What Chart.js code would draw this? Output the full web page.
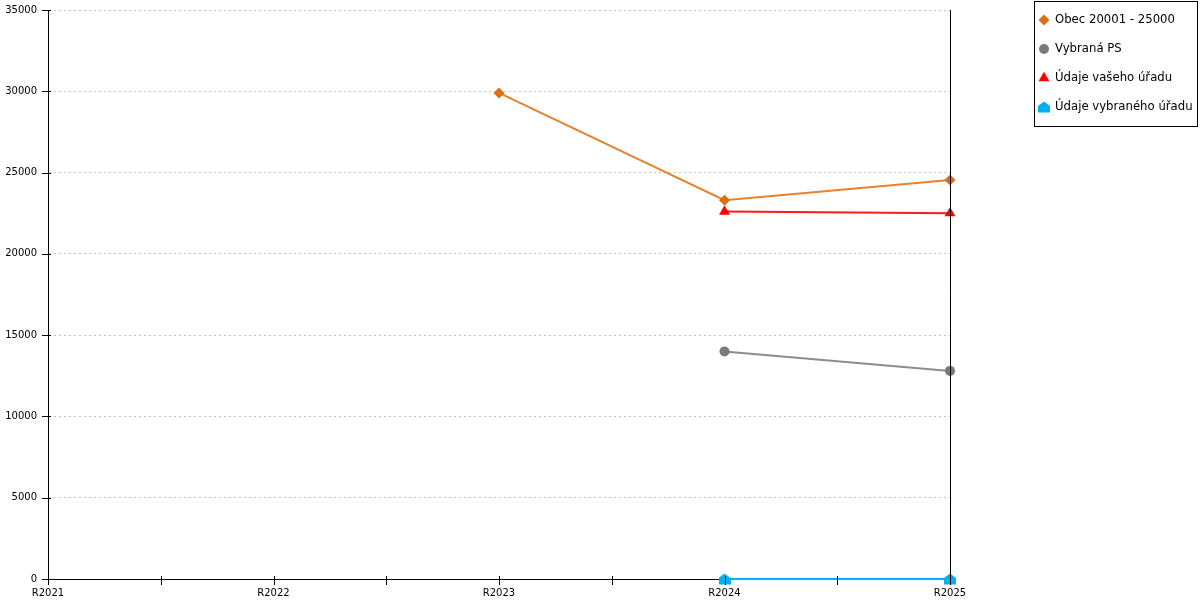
<!DOCTYPE html>
<html>
<head>
<meta charset="utf-8">
<script src="https://cdn.jsdelivr.net/npm/chart.js@4/dist/chart.umd.min.js"></script>
<style>
  html, body { margin: 0; padding: 0; background: #fff; }
  #wrap { width: 1200px; height: 600px; }
</style>
</head>
<body>
<div id="wrap"><canvas id="chart" width="1200" height="600"></canvas></div>
<script>
// categories and values
const years = ['R2021', 'R2022', 'R2023', 'R2024', 'R2025'];
const obec = [null, null, 29900, 23300, 24550];
const vybranaPS = [null, null, null, 14000, 12800];
const vasUrad = [null, null, null, 22600, 22500];
const vybranyUrad = [null, null, null, 0, 0];
const yTicks = [0, 5000, 10000, 15000, 20000, 25000, 30000, 35000];

const seriesNames = ['Obec 20001 - 25000', 'Vybraná PS', 'Údaje vašeho úřadu', 'Údaje vybraného úřadu'];

// house shaped marker for the last series
function houseMarker(color) {
    const c = document.createElement('canvas');
    c.width = 12; c.height = 12;
    const g = c.getContext('2d');
    g.fillStyle = color;
    g.beginPath();
    g.moveTo(6, 0.5);
    g.lineTo(12, 5);
    g.lineTo(12, 11.5);
    g.lineTo(0, 11.5);
    g.lineTo(0, 5);
    g.closePath();
    g.fill();
    return c;
}

const datasets = [
    { label: seriesNames[0], data: obec, borderColor: '#E8822A', backgroundColor: '#DD6E14',
      pointStyle: 'rectRot', pointRadius: 5.5, pointBorderWidth: 0 },
    { label: seriesNames[1], data: vybranaPS, borderColor: '#8C8C8C', backgroundColor: '#7A7A7A',
      pointStyle: 'circle', pointRadius: 5, pointBorderWidth: 0 },
    { label: seriesNames[2], data: vasUrad, borderColor: '#FF1A1A', backgroundColor: '#FF0000',
      pointStyle: 'triangle', pointRadius: 6.3, pointBorderWidth: 0 },
    { label: seriesNames[3], data: vybranyUrad, borderColor: '#00B0F0', backgroundColor: '#00B0F0',
      pointStyle: houseMarker('#00B0F0'), pointRadius: 6, pointBorderWidth: 0 }
];
datasets.forEach(d => {
    d.borderWidth = 2;
    d.fill = false;
    d.tension = 0;
    d.clip = false;
    d.spanGaps = false;
    d.pointHoverRadius = d.pointRadius;
});

// draws one legend marker in the same style as the dataset points
function legendMarker(ctx, d, x, y) {
    if (typeof d.pointStyle !== 'string') {
        const img = d.pointStyle;
        ctx.drawImage(img, x - img.width / 2, y - img.height / 2);
        return;
    }
    Chart.helpers.drawPoint(ctx, {
        pointStyle: d.pointStyle,
        radius: d.pointRadius,
        rotation: 0,
        borderWidth: 0
    }, x, y);
}

// axis frame, crossing tick marks and the boxed legend
const framePlugin = {
    id: 'frame',
    afterDraw(chart) {
        const ctx = chart.ctx;
        const area = chart.chartArea;
        const x = chart.scales.x;
        const y = chart.scales.y;
        ctx.save();
        ctx.strokeStyle = '#000';
        ctx.lineWidth = 1;
        ctx.beginPath();
        // right border
        ctx.moveTo(Math.round(area.right) + 0.5, area.top);
        ctx.lineTo(Math.round(area.right) + 0.5, area.bottom);
        // y ticks
        yTicks.forEach(v => {
            const py = Math.round(y.getPixelForValue(v)) + 0.5;
            ctx.moveTo(area.left - 6, py);
            ctx.lineTo(area.left + 3, py);
        });
        // x ticks at categories and midpoints
        for (let i = 0; i < years.length; i++) {
            const px = x.getPixelForValue(i);
            ctx.moveTo(Math.round(px) + 0.5, area.bottom - 3);
            ctx.lineTo(Math.round(px) + 0.5, area.bottom + 6);
            if (i < years.length - 1) {
                const mid = (px + x.getPixelForValue(i + 1)) / 2;
                ctx.moveTo(Math.round(mid) + 0.5, area.bottom - 3);
                ctx.lineTo(Math.round(mid) + 0.5, area.bottom + 6);
            }
        }
        ctx.stroke();

        // legend
        const lx = 1034.5, ly = 1.5, lw = 163, lh = 125;
        ctx.strokeRect(lx, ly, lw, lh);
        ctx.font = '11.7px "DejaVu Sans", Verdana, sans-serif';
        ctx.textBaseline = 'middle';
        ctx.textAlign = 'left';
        chart.data.datasets.forEach((d, i) => {
            const cy = 20 + i * 29;
            ctx.fillStyle = d.backgroundColor;
            ctx.strokeStyle = d.backgroundColor;
            legendMarker(ctx, d, 1044, cy);
            ctx.fillStyle = '#000';
            ctx.fillText(d.label, 1055, cy);
        });
        ctx.restore();
    }
};

new Chart(document.getElementById('chart').getContext('2d'), {
    type: 'line',
    data: { labels: years, datasets: datasets },
    plugins: [framePlugin],
    options: {
        responsive: false,
        animation: false,
        events: [],
        layout: { padding: { left: 0, right: 250, top: 10, bottom: 0 } },
        plugins: { legend: { display: false }, tooltip: { enabled: false } },
        scales: {
            x: {
                type: 'category',
                offset: false,
                grid: { display: false, drawTicks: false },
                border: { color: '#000', width: 1 },
                ticks: {
                    color: '#000',
                    padding: 8,
                    maxRotation: 0,
                    autoSkip: false,
                    font: { family: '"DejaVu Sans", Verdana, sans-serif', size: 10 }
                },
                afterFit(scale) { scale.height = 21; }
            },
            y: {
                min: 0,
                max: 35000,
                afterBuildTicks(scale) { scale.ticks = yTicks.map(v => ({ value: v })); },
                grid: {
                    color: '#C4C4C4',
                    drawTicks: false
                },
                border: { color: '#000', width: 1, dash: [2, 3], display: true },
                ticks: {
                    color: '#000',
                    padding: 11,
                    callback: v => String(v),
                    font: { family: '"DejaVu Sans", Verdana, sans-serif', size: 10 }
                },
                afterFit(scale) {
                    scale.width = 48;
                    scale.paddingTop = 0;
                    scale.paddingBottom = 0;
                }
            }
        }
    }
});
</script>
</body>
</html>
